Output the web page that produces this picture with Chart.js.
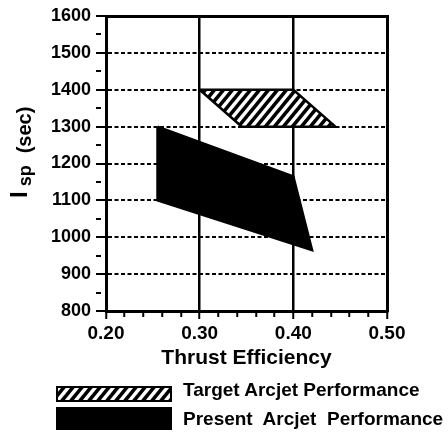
<!DOCTYPE html>
<html><head><meta charset="utf-8">
<script src="https://cdn.jsdelivr.net/npm/chart.js@4.4.1/dist/chart.umd.min.js"></script>
<style>
html,body{margin:0;padding:0;background:#fff;}
#wrap{position:relative;width:448px;height:433px;overflow:hidden;background:#fff;}
#c{position:absolute;left:0;top:0;}
.lgtxt{position:absolute;font:bold 19px 'Liberation Sans',Arial,Helvetica,sans-serif;color:#000;white-space:pre;line-height:19px;}
.lgbox{position:absolute;}
</style></head><body>
<div id="wrap"><canvas id="c" width="448" height="433"></canvas><div id="legend"></div></div>
<script>
// ---- data ----
const seriesNames = ['Target Arcjet Performance', 'Present  Arcjet  Performance'];
const targetEff = [0.30, 0.40, 0.445, 0.345, 0.30];
const targetIsp = [1400, 1400, 1300, 1300, 1400];
const presentEff = [0.255, 0.40, 0.42, 0.255, 0.255];
const presentIsp = [1300, 1165, 965, 1100, 1300];
const xTicks = [0.20,0.22,0.24,0.26,0.28,0.30,0.32,0.34,0.36,0.38,0.40,0.42,0.44,0.46,0.48,0.50];
const xMajor = [0.20, 0.30, 0.40, 0.50];
const xMajorLabels = ['0.20', '0.30', '0.40', '0.50'];
const yTicks = [800,850,900,950,1000,1050,1100,1150,1200,1250,1300,1350,1400,1450,1500,1550,1600];
const yMajor = [800,900,1000,1100,1200,1300,1400,1500,1600];
const yMajorLabels = ['800','900','1000','1100','1200','1300','1400','1500','1600'];
const xTitle = 'Thrust Efficiency';
const yTitleMain = 'I', yTitleSub = 'sp', yTitleRest = '(sec)';

const FONT = "'Liberation Sans', Arial, Helvetica, sans-serif";
const idx = (arr, v) => arr.findIndex(a => Math.abs(a - v) < 1e-6);

function hatch() {
  const w = 9, h = 11;
  const c = document.createElement('canvas'); c.width = w; c.height = h;
  const g = c.getContext('2d');
  g.fillStyle = '#fff'; g.fillRect(0, 0, w, h);
  g.strokeStyle = '#000'; g.lineWidth = 3.6;
  for (const k of [-1, 0, 1]) {
    g.beginPath(); g.moveTo(k * w - w, 2 * h); g.lineTo(k * w + 2 * w, -h); g.stroke();
  }
  return g.createPattern(c, 'repeat');
}

const yTitlePlugin = {
  id: 'yTitle',
  afterDraw(chart) {
    const ctx = chart.ctx;
    ctx.save();
    ctx.fillStyle = '#000';
    ctx.textBaseline = 'alphabetic';
    ctx.translate(0, 198);
    ctx.rotate(-Math.PI / 2);
    ctx.font = 'bold 24px ' + FONT;
    ctx.fillText(yTitleMain, 0, 27);
    let pos = ctx.measureText(yTitleMain).width + 5;
    ctx.font = 'bold 18px ' + FONT;
    ctx.fillText(yTitleSub, pos, 31);
    pos += ctx.measureText(yTitleSub).width + 12;
    ctx.font = 'bold 20px ' + FONT;
    ctx.fillText(yTitleRest, pos, 31);
    ctx.restore();
  }
};

const ds = (label, xs, ys, bg) => ({
  label, data: xs.map((x, i) => ({x, y: ys[i]})),
  backgroundColor: bg, borderColor: '#000', borderWidth: 2.5,
  fill: 'shape', pointRadius: 0, tension: 0
});

const chart = new Chart(document.getElementById('c'), {
  type: 'line',
  data: { datasets: [
    ds(seriesNames[0], targetEff, targetIsp, hatch()),
    ds(seriesNames[1], presentEff, presentIsp, '#000')
  ]},
  options: {
    responsive: false, animation: false, devicePixelRatio: 1,
    layout: { padding: { left: 0, right: 61, top: 16, bottom: 62 } },
    plugins: { legend: { display: false }, tooltip: { enabled: false } },
    scales: {
      x: {
        type: 'linear', position: 'bottom', min: 0.2, max: 0.5,
        afterBuildTicks: s => { s.ticks = xTicks.map(v => ({value: v})); },
        afterFit: s => { s.height = 60; },
        ticks: {
          autoSkip: false, maxRotation: 0, padding: 3, color: '#000',
          font: { family: FONT, size: 19, weight: 'bold' },
          callback: v => { const i = idx(xMajor, v); return i >= 0 ? xMajorLabels[i] : ''; }
        },
        grid: {
          lineWidth: 2.5, tickLength: 8, tickWidth: 2, tickColor: '#000',
          color: c => (c.tick && idx(xMajor, c.tick.value) >= 0 && c.tick.value > 0.21 && c.tick.value < 0.49) ? '#000' : 'rgba(0,0,0,0)',
          tickBorderDash: c => (c.tick && idx(xMajor, c.tick.value) >= 0) ? [] : [4, 100]
        },
        border: { color: '#000', width: 3 },
        title: { display: true, text: xTitle, color: '#000', padding: 0,
                 font: { family: FONT, size: 21, weight: 'bold' } }
      },
      y: {
        type: 'linear', position: 'left', min: 800, max: 1600,
        afterBuildTicks: s => { s.ticks = yTicks.map(v => ({value: v})); },
        afterFit: s => { s.width = 106; },
        ticks: {
          autoSkip: false, padding: 5, color: '#000',
          font: { family: FONT, size: 18, weight: 'bold' },
          callback: v => { const i = idx(yMajor, v); return i >= 0 ? yMajorLabels[i] : ''; }
        },
        grid: {
          lineWidth: 2, tickLength: 10, tickWidth: 2, tickColor: '#000',
          color: c => (c.tick && idx(yMajor, c.tick.value) >= 0 && c.tick.value > 850 && c.tick.value < 1550) ? '#000' : 'rgba(0,0,0,0)',
          tickBorderDash: c => (c.tick && idx(yMajor, c.tick.value) >= 0) ? [] : [5, 100]
        },
        border: { color: '#000', width: 3, dash: [4, 2.5] }
      },
      x2: {
        type: 'linear', position: 'top', min: 0.2, max: 0.5,
        afterFit: s => { s.height = 0; },
        ticks: { display: false }, grid: { display: false, drawTicks: false },
        border: { color: '#000', width: 3 }
      },
      y2: {
        type: 'linear', position: 'right', min: 800, max: 1600,
        afterFit: s => { s.width = 0; },
        ticks: { display: false }, grid: { display: false, drawTicks: false },
        border: { color: '#000', width: 3 }
      }
    }
  },
  plugins: [yTitlePlugin]
});

// ---- HTML legend built from the datasets ----
const legendLayout = [
  { boxTop: 386, boxH: 16, textTop: 380 },
  { boxTop: 407, boxH: 23, textTop: 409 }
];
const legendEl = document.getElementById('legend');
chart.data.datasets.forEach((d, i) => {
  const L = legendLayout[i];
  const box = document.createElement('canvas');
  box.className = 'lgbox'; box.width = 116; box.height = L.boxH;
  box.style.left = '56px'; box.style.top = L.boxTop + 'px';
  const g = box.getContext('2d');
  g.fillStyle = d.backgroundColor; g.fillRect(0, 0, 116, L.boxH);
  g.strokeStyle = '#000'; g.lineWidth = 2; g.strokeRect(1, 1, 114, L.boxH - 2);
  legendEl.appendChild(box);
  const t = document.createElement('div');
  t.className = 'lgtxt'; t.textContent = d.label;
  t.style.left = '183px'; t.style.top = L.textTop + 'px';
  legendEl.appendChild(t);
});
</script>
</body></html>
